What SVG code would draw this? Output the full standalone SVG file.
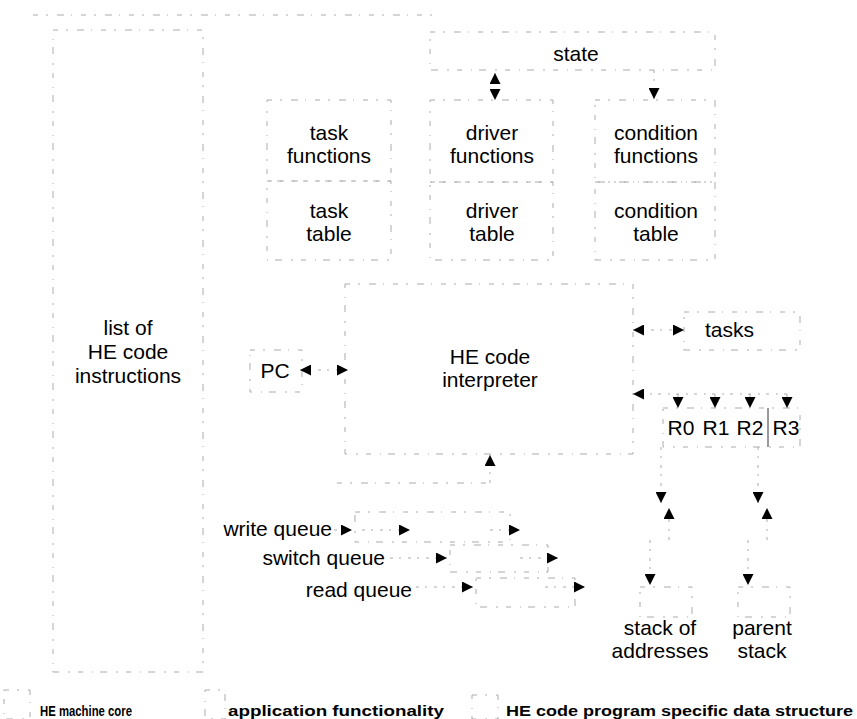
<svg xmlns="http://www.w3.org/2000/svg" width="857" height="719" viewBox="0 0 857 719">
  <style>
    .frame { fill: none; stroke: #ababab; stroke-width: 1; stroke-dasharray: 5 8 2 9 7 7 1 9; }
    .wire { fill: none; stroke: #ababab; stroke-width: 1; stroke-dasharray: 3 6 2 7; }
    .lbl { font-family: "Liberation Sans", Arial, sans-serif; font-size: 21px; fill: #000; text-anchor: middle; }
    .key { font-family: "Liberation Sans", Arial, sans-serif; font-size: 14px; font-weight: bold; fill: #000; }
  </style>
  <defs>
    <marker id="head" viewBox="0 0 10 10" refX="10" refY="5" markerWidth="11" markerHeight="11" markerUnits="userSpaceOnUse" orient="auto-start-reverse">
      <path d="M0,0 L10,5 L0,10 z" fill="#000"/>
    </marker>
  </defs>
  <rect width="857" height="719" fill="#fff"/>

  <!-- machine core outline (top edge) -->
  <line class="frame" x1="33" y1="15" x2="432" y2="15"/>

  <g id="instructions">
    <rect class="frame" x="53" y="30" width="150" height="642"/>
    <text class="lbl" x="128" y="335">list of</text>
    <text class="lbl" x="128" y="359">HE code</text>
    <text class="lbl" x="128" y="383">instructions</text>
  </g>

  <g id="state">
    <rect class="frame" x="430" y="32" width="285" height="38"/>
    <text class="lbl" x="576" y="61">state</text>
  </g>

  <g id="task-functions">
    <rect class="frame" x="267" y="100" width="124" height="81"/>
    <text class="lbl" x="329" y="140">task</text>
    <text class="lbl" x="329" y="163">functions</text>
  </g>
  <g id="task-table">
    <rect class="frame" x="267" y="181" width="124" height="79"/>
    <text class="lbl" x="329" y="218">task</text>
    <text class="lbl" x="329" y="241">table</text>
  </g>

  <g id="driver-functions">
    <rect class="frame" x="430" y="100" width="123" height="82"/>
    <text class="lbl" x="492" y="140">driver</text>
    <text class="lbl" x="492" y="163">functions</text>
  </g>
  <g id="driver-table">
    <rect class="frame" x="430" y="182" width="123" height="78"/>
    <text class="lbl" x="492" y="218">driver</text>
    <text class="lbl" x="492" y="241">table</text>
  </g>

  <g id="condition-functions">
    <rect class="frame" x="595" y="100" width="120" height="82"/>
    <text class="lbl" x="656" y="140">condition</text>
    <text class="lbl" x="656" y="163">functions</text>
  </g>
  <g id="condition-table">
    <rect class="frame" x="595" y="182" width="120" height="78"/>
    <text class="lbl" x="656" y="218">condition</text>
    <text class="lbl" x="656" y="241">table</text>
  </g>

  <g id="pc">
    <rect class="frame" x="250" y="350" width="52" height="42"/>
    <text class="lbl" x="275" y="378">PC</text>
  </g>

  <g id="interpreter">
    <rect class="frame" x="345" y="284" width="288" height="170"/>
    <text class="lbl" x="490" y="364">HE code</text>
    <text class="lbl" x="490" y="387">interpreter</text>
  </g>

  <g id="tasks">
    <rect class="frame" x="684" y="312" width="116" height="38"/>
    <text class="lbl" x="705" y="337" style="text-anchor:start">tasks</text>
  </g>

  <g id="registers">
    <rect class="frame" x="663" y="408" width="137" height="39"/>
    <line x1="768" y1="408" x2="768" y2="447" stroke="#333" stroke-width="1"/>
    <text class="lbl" x="681" y="435">R0</text>
    <text class="lbl" x="716" y="435">R1</text>
    <text class="lbl" x="750" y="435">R2</text>
    <text class="lbl" x="786" y="435">R3</text>
  </g>

  <g id="queues">
    <line class="frame" x1="337" y1="483" x2="493" y2="483"/>
    <g id="write-queue">
      <rect class="frame" x="355" y="512" width="155" height="30"/>
      <text class="lbl" x="332" y="536" style="text-anchor:end">write queue</text>
    </g>
    <g id="switch-queue">
      <rect class="frame" x="450" y="545" width="98" height="27"/>
      <text class="lbl" x="385" y="565" style="text-anchor:end">switch queue</text>
    </g>
    <g id="read-queue">
      <rect class="frame" x="476" y="578" width="99" height="29"/>
      <text class="lbl" x="412" y="597" style="text-anchor:end">read queue</text>
    </g>
  </g>

  <g id="address-stack">
    <rect class="frame" x="640" y="587" width="52" height="30"/>
    <text class="lbl" x="660" y="635">stack of</text>
    <text class="lbl" x="660" y="658">addresses</text>
  </g>
  <g id="parent-stack">
    <rect class="frame" x="738" y="587" width="52" height="30"/>
    <text class="lbl" x="762" y="635">parent</text>
    <text class="lbl" x="762" y="658">stack</text>
  </g>

  <g id="connectors">
    <!-- state / driver functions, state / condition functions -->
    <path class="wire" d="M495,73 V100" marker-start="url(#head)" marker-end="url(#head)"/>
    <path class="wire" d="M654,70 V99" marker-end="url(#head)"/>
    <!-- PC / interpreter -->
    <path class="wire" d="M300,370 H348" marker-start="url(#head)" marker-end="url(#head)"/>
    <!-- interpreter / tasks -->
    <path class="wire" d="M633,330 H684" marker-start="url(#head)" marker-end="url(#head)"/>
    <!-- register bus -->
    <path class="wire" d="M787,394 H633" marker-end="url(#head)"/>
    <path class="wire" d="M678,394 V408" marker-end="url(#head)"/>
    <path class="wire" d="M715,394 V408" marker-end="url(#head)"/>
    <path class="wire" d="M750,394 V408" marker-end="url(#head)"/>
    <path class="wire" d="M787,394 V408" marker-end="url(#head)"/>
    <!-- queues to interpreter -->
    <path class="wire" d="M490,483 V455" marker-end="url(#head)"/>
    <!-- write queue -->
    <path class="wire" d="M334,530 H352" marker-end="url(#head)"/>
    <path class="wire" d="M362,530 H410" marker-end="url(#head)"/>
    <path class="wire" d="M490,530 H520" marker-end="url(#head)"/>
    <!-- switch queue -->
    <path class="wire" d="M390,558 H447" marker-end="url(#head)"/>
    <path class="wire" d="M520,558 H558" marker-end="url(#head)"/>
    <!-- read queue -->
    <path class="wire" d="M416,587 H473" marker-end="url(#head)"/>
    <path class="wire" d="M545,587 H585" marker-end="url(#head)"/>
    <!-- registers / stacks -->
    <path class="wire" d="M661,447 V503" marker-end="url(#head)"/>
    <path class="wire" d="M669,540 V508" marker-end="url(#head)"/>
    <path class="wire" d="M650,540 V585" marker-end="url(#head)"/>
    <path class="wire" d="M758,447 V503" marker-end="url(#head)"/>
    <path class="wire" d="M767,540 V508" marker-end="url(#head)"/>
    <path class="wire" d="M748,540 V585" marker-end="url(#head)"/>
  </g>

  <g id="legend">
    <rect class="frame" x="4" y="690" width="26" height="29"/>
    <text class="key" x="40" y="716" textLength="92" lengthAdjust="spacingAndGlyphs">HE machine core</text>
    <rect class="frame" x="205" y="690" width="20" height="29"/>
    <text class="key" x="228" y="716" textLength="216" lengthAdjust="spacingAndGlyphs">application functionality</text>
    <rect class="frame" x="472" y="695" width="26" height="24"/>
    <text class="key" x="506" y="716" textLength="347" lengthAdjust="spacingAndGlyphs">HE code program specific data structure</text>
  </g>
</svg>
